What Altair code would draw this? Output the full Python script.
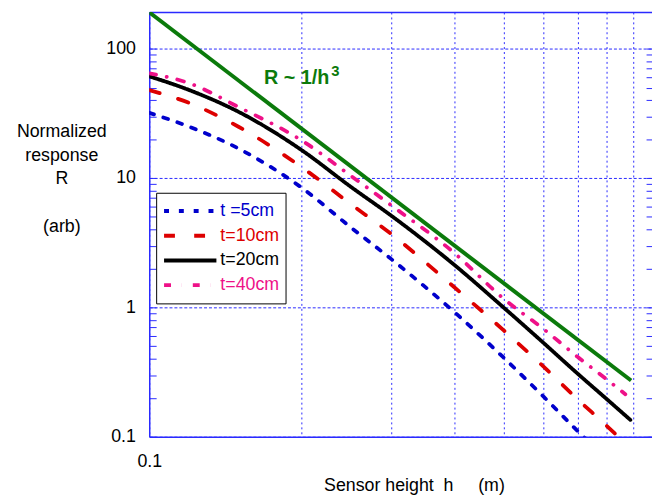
import altair as alt
import pandas as pd

# ---- data ----
series_names = ["t =5cm", "t=10cm", "t=20cm", "t=40cm"]
series_colors = ["#0000cc", "#dd0000", "#000000", "#ee1188"]
series_dashes = [[5, 10], [11, 19.5], [1, 0], [7, 11, 0.1, 11]]

h_t5 = [0.1, 0.12, 0.15, 0.2, 0.25, 0.3, 0.4, 0.5, 0.6, 0.7, 0.8]
r_t5 = [31.9, 24.9, 16.9, 8.4, 4.15, 2.37, 0.92, 0.41, 0.204, 0.111, 0.067]
h_t10 = [0.1, 0.12, 0.15, 0.2, 0.25, 0.3, 0.4, 0.5, 0.6, 0.7, 0.8, 0.9]
r_t10 = [47.8, 38.0, 24.9, 12.1, 6.28, 3.7, 1.43, 0.667, 0.348, 0.195, 0.121, 0.078]
h_t20 = [0.1, 0.12, 0.15, 0.2, 0.25, 0.3, 0.4, 0.5, 0.6, 0.7, 0.8, 0.89]
r_t20 = [61.1, 47.8, 32.5, 16.4, 8.54, 5.13, 2.13, 1.0, 0.531, 0.308, 0.195, 0.135]
h_t40 = [0.1, 0.12, 0.15, 0.2, 0.25, 0.3, 0.4, 0.5, 0.6, 0.7, 0.8, 0.87]
r_t40 = [64.4, 54.0, 35.4, 19.5, 10.4, 6.17, 2.63, 1.17, 0.68, 0.415, 0.277, 0.213]

h_fit = [0.1, 0.893]
r_fit = [191, 0.272]

note_h = [0.1685, 0.2286]
note_r = [59, 67]
note_text = ["R ~ 1/h", "3"]
note_size = [20, 15]

x_domain = [0.1, 0.982]
y_domain = [0.1, 192]
x_grid = [0.1, 0.2, 0.3, 0.4, 0.5, 0.6, 0.7, 0.8, 0.9]
y_major = [0.1, 1, 10, 100]
y_minor = [0.1, 0.2, 0.3, 0.4, 0.5, 0.6, 0.7, 0.8, 0.9,
           1, 2, 3, 4, 5, 6, 7, 8, 9,
           10, 20, 30, 40, 50, 60, 70, 80, 90, 100]

FONT = "Liberation Sans"
BLUE = "#2a2aff"

rows = []
for name, hs, rs in [(series_names[0], h_t5, r_t5), (series_names[1], h_t10, r_t10),
                     (series_names[2], h_t20, r_t20), (series_names[3], h_t40, r_t40)]:
    for i, (hv, rv) in enumerate(zip(hs, rs)):
        rows.append({"h": hv, "R": rv, "series": name, "i": i})
df = pd.DataFrame(rows)
fit_df = pd.DataFrame({"h": h_fit, "R": r_fit})
note_df = pd.DataFrame({"h": note_h, "R": note_r, "txt": note_text, "fs": note_size})

xs = alt.Scale(type="log", domain=x_domain, nice=False)
ys = alt.Scale(type="log", domain=y_domain, nice=False)

color_expr = " : ".join(
    f"datum.label === '{n}' ? '{c}'" for n, c in zip(series_names, series_colors)
) + " : 'black'"

legend = alt.Legend(
    title=None, orient="none", legendX=7, legendY=183,
    symbolType="stroke", symbolSize=2809, symbolStrokeWidth=4,
    labelFontSize=18, labelFont=FONT, labelOffset=2,
    labelColor=alt.ExprRef(expr=color_expr),
    clipHeight=25, rowPadding=0, padding=6,
    fillColor="white", strokeColor="black", cornerRadius=0,
)

title_common = dict(titleFont=FONT, titleFontSize=18, titleFontWeight="normal",
                    titleColor="black", titleAngle=0, titleAlign="center",
                    titleBaseline="middle", titleLineHeight=24)

lines = alt.Chart(df).mark_line(strokeWidth=3.8, strokeCap="round", clip=True,
                                interpolate="monotone").encode(
    x=alt.X("h:Q", scale=xs, axis=alt.Axis(
        values=x_grid, labelExpr="datum.value < 0.15 ? '0.1' : ''",
        labelOverlap=False, labelFlush=False, ticks=False, tickSize=0,
        labelPadding=16, labelFontSize=18, labelFont=FONT, labelColor="black",
        domain=True, domainColor=BLUE, domainWidth=1.5,
        grid=True, gridColor=BLUE, gridDash=[2, 3], gridWidth=1,
        title="Sensor height\u00a0\u00a0h\u00a0\u00a0\u00a0\u00a0\u00a0(m)",
        titleFont=FONT, titleFontSize=18, titleFontWeight="normal", titleColor="black",
        titleX=268, titleY=49, titleAlign="center", titleBaseline="middle",
    )),
    y=alt.Y("R:Q", scale=ys, axis=alt.Axis(
        values=y_major, format="~g", labelOverlap=False, labelFlush=False,
        ticks=False, tickSize=0, labelPadding=14,
        labelFontSize=18, labelFont=FONT, labelColor="black",
        domain=True, domainColor=BLUE, domainWidth=1.5,
        grid=True, gridColor=BLUE, gridDash=[3, 2], gridWidth=1,
        title=["Normalized", "response", "R"],
        titleX=-89, titleY=121, **title_common,
    )),
    color=alt.Color("series:N", scale=alt.Scale(domain=series_names, range=series_colors), legend=legend),
    strokeDash=alt.StrokeDash("series:N", scale=alt.Scale(domain=series_names, range=series_dashes), legend=legend),
    order="i:Q",
)

fit = alt.Chart(fit_df).mark_line(strokeWidth=4, color="#0b7a0b", clip=True).encode(
    x=alt.X("h:Q", scale=xs, axis=alt.Axis(
        orient="top", domain=True, domainColor=BLUE, domainWidth=1.5,
        ticks=False, labels=False, grid=False, title=None)),
    y=alt.Y("R:Q", scale=ys, axis=alt.Axis(
        orient="left", offset=-7, values=y_minor, domain=False, labels=False,
        grid=False, ticks=True, tickSize=7, tickColor=BLUE, tickWidth=1,
        title="(arb)", titleX=-96, titleY=217, **title_common)),
)

rticks = alt.Chart(fit_df).mark_point(opacity=0).encode(
    x=alt.X("h:Q", scale=xs, axis=None),
    y=alt.Y("R:Q", scale=ys, axis=alt.Axis(
        orient="right", offset=-6, values=y_minor, domain=False, labels=False,
        grid=False, ticks=True, tickSize=6, tickColor=BLUE, tickWidth=1, title=None)),
)

note = alt.Chart(note_df).mark_text(
    align="left", baseline="middle", fontWeight="bold",
    font=FONT, color="#0b7a0b",
).encode(
    x=alt.X("h:Q", scale=xs, axis=None),
    y=alt.Y("R:Q", scale=ys, axis=None),
    text="txt:N",
    size=alt.Size("fs:Q", scale=None, legend=None),
)

chart = alt.layer(lines, fit, rticks, note).resolve_axis(
    x="independent", y="independent"
).properties(
    width=509, height=430,
    padding={"left": 143, "top": 1, "right": 0, "bottom": 62},
    autosize=alt.AutoSizeParams(type="none"),
).configure_view(stroke=None)

chart.save("out.html", embed_options={"renderer": "svg", "actions": False})
